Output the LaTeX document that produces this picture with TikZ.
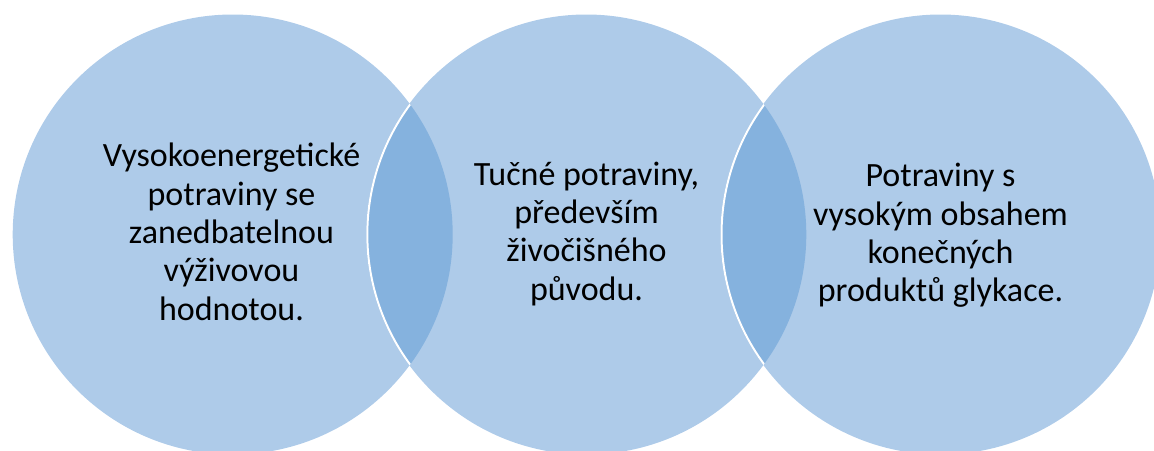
\documentclass[tikz,border=0pt]{standalone}
\usepackage{fontspec}
\setmainfont{Carlito}
\definecolor{ringfill}{RGB}{174,203,233}
\definecolor{ringoverlap}{RGB}{133,178,222}
\tikzset{
  ring/.style={circle, minimum size=440pt, inner sep=0pt, outer sep=0pt, fill=ringfill, draw=none},
  ringtext/.style={anchor=base, inner sep=0pt, font=\fontsize{34}{38.4}\selectfont}
}
\newcommand{\ringlabel}[1]{\parbox[t]{330pt}{\centering #1}}
\begin{document}
\begin{tikzpicture}[x=1pt, y=-1pt]
  \useasboundingbox (0,0) rectangle (1154,450);
  \clip (0,0) rectangle (1154,450);
  % three overlapping circles
  \node[ring] (c1) at (232.7,234.5) {};
  \node[ring] (c2) at (586.3,234.5) {};
  \node[ring] (c3) at (940.5,234.5) {};
  % darker lenses where neighbours overlap
  \begin{scope}
    \clip (c1.center) circle (220pt);
    \fill[ringoverlap] (c2.center) circle (220pt);
  \end{scope}
  \begin{scope}
    \clip (c2.center) circle (220pt);
    \fill[ringoverlap] (c3.center) circle (220pt);
  \end{scope}
  % white rim of the upper circle inside each lens
  \begin{scope}
    \clip (c1.center) circle (220pt);
    \draw[white, line width=2pt] (c2.center) circle (219pt);
  \end{scope}
  \begin{scope}
    \clip (c2.center) circle (220pt);
    \draw[white, line width=2pt] (c3.center) circle (219pt);
  \end{scope}
  % labels
  \node[ringtext] (t1) at (231.5,166.7) {\ringlabel{Vysokoenergetické\\potraviny se\\zanedbatelnou\\výživovou\\hodnotou.}};
  \node[ringtext] (t2) at (586.5,185) {\ringlabel{Tučné potraviny,\\především\\živočišného\\původu.}};
  \node[ringtext] (t3) at (940.5,186.7) {\ringlabel{Potraviny s\\vysokým obsahem\\konečných\\produktů glykace.}};
\end{tikzpicture}
\end{document}
